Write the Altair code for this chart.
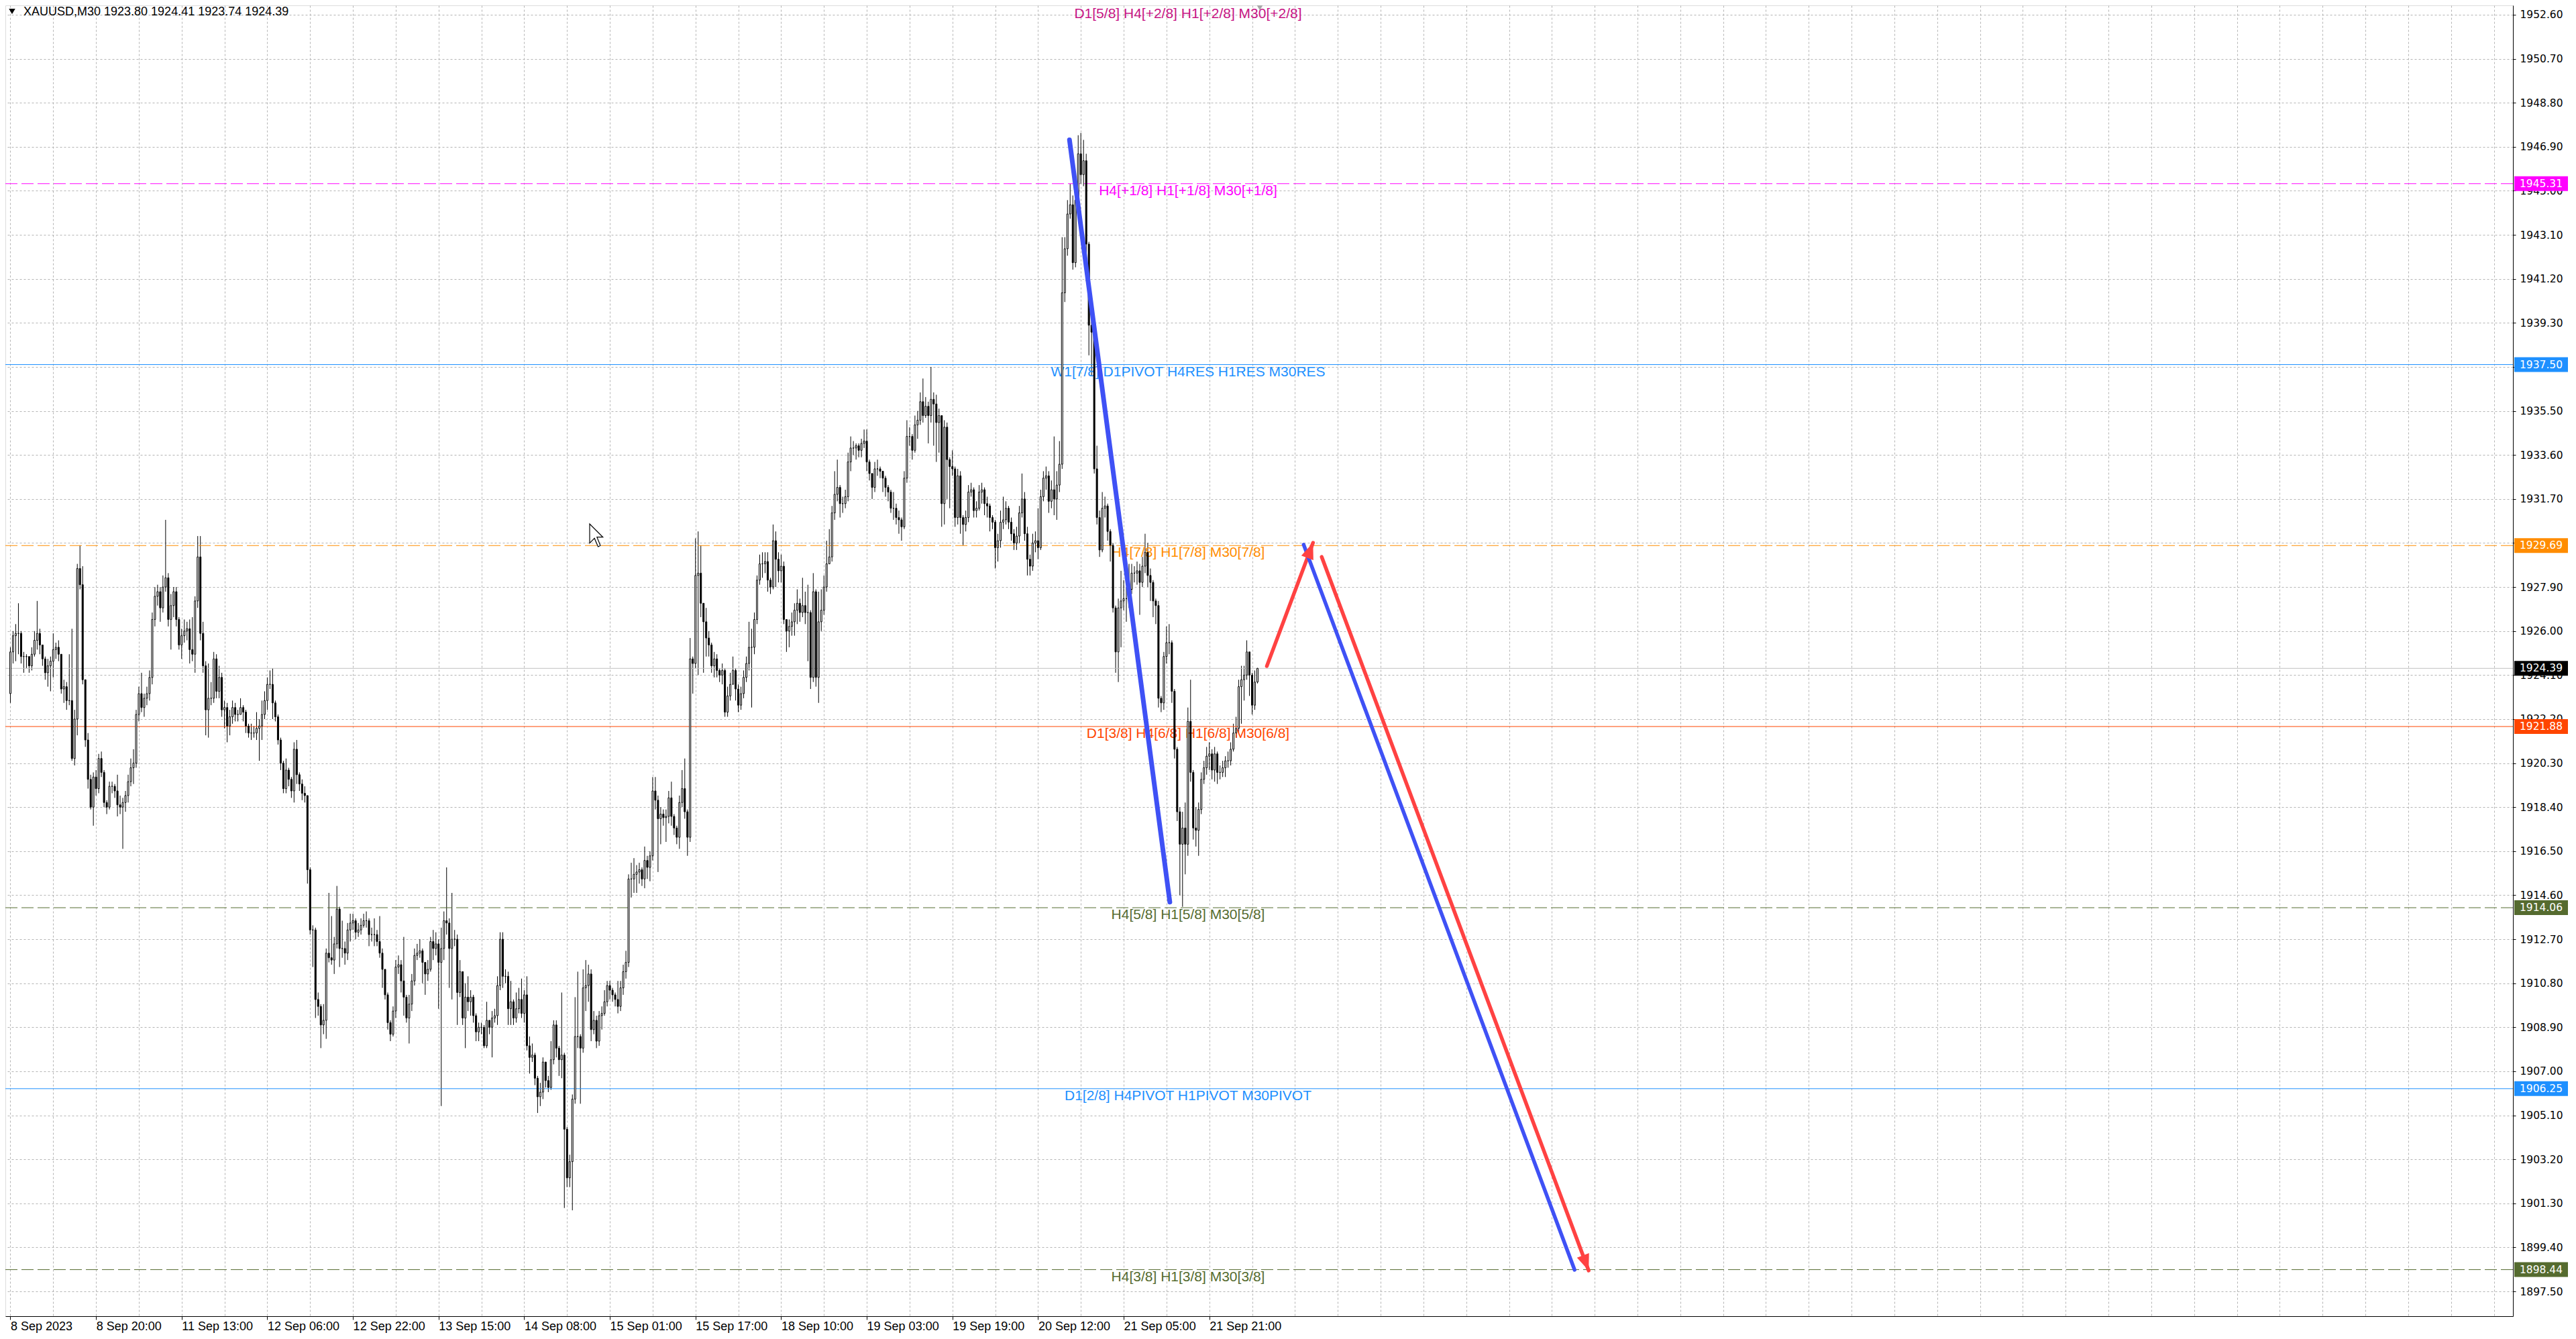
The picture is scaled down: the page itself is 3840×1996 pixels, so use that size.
import math
import altair as alt
import pandas as pd

# ---------------- data ----------------
symbol = "XAUUSD,M30"
last_ohlc = [1923.80, 1924.41, 1923.74, 1924.39]
first_open = 1923.30

close_a = [1925.1,1925.8,1925.9,1925.9,1924.9,1924.9,1924.9,1924.5,1925.0,1925.6,
           1925.9,1925.4,1924.8,1924.2,1924.5,1924.7,1925.2,1925.3,1925.0,1923.5,
           1923.6,1923.0,1923.0,1920.5,1922.2,1928.7,1928.0,1923.9,1921.3,1919.6,
           1918.4,1919.7,1919.2,1920.5,1919.9,1918.6,1918.4,1919.3,1919.3,1919.1,
           1918.5,1918.4,1918.6,1918.9,1919.5,1920.1,1920.3,1922.4,1923.3,1922.7,
           1923.1,1923.3,1924.0,1926.5,1927.5,1927.7,1927.0,1927.9,1928.3,1926.5,
           1927.1,1927.7,1926.5,1925.4,1925.8,1926.0,1926.1,1925.2,1925.0,1927.3,
           1929.2,1925.9,1924.5,1922.6,1923.1,1923.1,1924.8,1923.4,1924.0,1922.6,
           1922.7,1921.9,1922.3,1922.7,1922.4,1922.4,1922.7,1922.5,1921.9,1921.6,
           1921.6,1921.6,1921.8,1921.9,1922.4,1923.0,1923.7,1923.7,1922.9,1922.3,
           1921.3,1920.3,1919.2,1920.0,1919.6,1919.1,1920.9,1919.8,1919.4,1919.0,
           1918.9,1915.7,1913.1,1913.1,1910.1,1909.8,1909.0]
high_a = [1925.3,1926.0,1926.3,1927.2,1926.0,1925.1,1925.0,1924.9,1925.3,1926.0,
          1927.3,1926.1,1925.4,1924.9,1924.8,1924.9,1925.9,1925.5,1925.6,1925.0,
          1923.9,1923.8,1925.0,1926.1,1922.6,1928.9,1929.7,1928.8,1923.9,1921.6,
          1919.8,1919.9,1920.0,1920.7,1920.8,1920.0,1918.7,1919.5,1919.5,1919.4,
          1919.8,1918.9,1918.8,1919.1,1919.8,1920.5,1920.9,1922.6,1923.6,1924.2,
          1923.3,1923.6,1924.3,1926.8,1927.9,1928.0,1927.9,1928.4,1930.8,1928.5,
          1927.6,1927.9,1927.9,1926.6,1926.1,1926.5,1926.4,1926.5,1926.6,1927.5,
          1930.1,1930.1,1926.4,1924.7,1924.6,1923.8,1925.1,1925.0,1924.5,1924.2,
          1923.0,1922.9,1922.6,1923.0,1922.9,1922.6,1923.1,1922.8,1922.6,1922.0,
          1922.0,1921.9,1922.5,1922.2,1923.0,1923.4,1924.0,1924.3,1924.4,1923.0,
          1922.4,1921.4,1920.4,1920.5,1920.1,1919.7,1921.2,1921.3,1919.9,1919.6,
          1919.3,1918.9,1915.8,1913.3,1913.2,1910.4,1909.9]
low_a = [1922.9,1924.6,1924.7,1925.0,1924.6,1924.2,1924.4,1924.2,1924.3,1924.9,
         1925.2,1925.0,1924.5,1923.9,1923.6,1923.4,1924.0,1924.8,1924.7,1923.3,
         1922.9,1922.6,1922.8,1920.4,1920.2,1921.5,1927.8,1923.7,1921.0,1919.2,
         1918.3,1917.6,1918.9,1919.0,1919.7,1918.4,1918.1,1918.3,1919.0,1918.8,
         1918.0,1918.1,1916.6,1918.2,1918.6,1919.3,1919.4,1920.1,1922.1,1922.5,
         1922.3,1922.8,1923.0,1923.7,1926.2,1927.1,1926.4,1926.8,1927.7,1926.2,
         1925.2,1926.6,1926.2,1925.2,1924.8,1925.5,1925.6,1924.6,1924.7,1924.2,
         1927.0,1925.6,1924.2,1921.5,1921.4,1922.8,1922.9,1923.1,1923.1,1922.3,
         1921.8,1921.2,1921.5,1922.0,1922.1,1922.1,1922.4,1922.1,1921.6,1921.4,
         1921.3,1921.4,1921.3,1920.4,1921.3,1922.2,1922.6,1923.5,1922.2,1922.1,
         1921.1,1920.0,1919.0,1919.0,1919.3,1918.8,1918.6,1919.4,1919.1,1918.7,
         1918.6,1915.1,1912.9,1911.5,1909.3,1909.4,1908.0]

close_b = [1909.2,1912.1,1911.9,1911.8,1912.5,1914.0,1912.3,1912.3,1912.1,1913.1,
           1913.4,1913.5,1913.0,1913.1,1913.3,1913.5,1913.5,1912.9,1912.9,1912.9,
           1912.6,1912.1,1911.4,1910.3,1909.1,1908.6,1909.6,1911.5,1911.6,1910.9,
           1910.2,1909.3,1909.9,1910.9,1912.0,1912.1,1912.2,1911.7,1911.2,1911.4,
           1912.6,1912.3,1912.5,1911.7,1912.3,1913.5,1913.4,1912.3,1912.7,1912.7,
           1910.4,1911.3,1909.3,1910.2,1910.0,1910.2,1909.4,1908.7,1908.9,1908.9,
           1908.1,1909.2,1908.9,1909.3,1909.4,1910.7,1912.7,1911.1,1911.1,1909.7,
           1910.0,1909.3,1909.7,1910.1,1909.5,1910.3,1908.1,1907.6,1907.7,1906.7,
           1905.9,1906.1,1907.4,1906.6,1906.3,1907.5,1909.0,1908.0,1907.5,1907.7,
           1904.5,1902.4,1903.1,1905.8,1908.5,1908.5,1908.0,1910.6,1910.7,1911.2,
           1908.8,1909.2,1908.3,1909.4,1909.5,1910.0,1910.7,1910.5,1910.3,1910.1,
           1909.8,1910.6,1911.3,1911.7,1915.3,1915.3,1915.5]
high_b = [1909.9,1912.3,1914.7,1913.7,1912.8,1915.0,1914.1,1913.5,1912.6,1913.4,
          1913.8,1913.8,1913.6,1913.4,1913.6,1913.8,1913.9,1913.6,1913.2,1913.6,
          1913.1,1913.7,1912.3,1911.4,1910.4,1909.2,1909.8,1911.8,1912.0,1911.8,
          1912.8,1910.3,1910.3,1911.2,1912.3,1912.5,1912.7,1912.3,1911.7,1911.8,
          1912.8,1913.1,1913.0,1912.7,1913.2,1913.9,1915.8,1913.6,1914.7,1913.1,
          1912.9,1911.8,1911.3,1910.8,1911.1,1910.5,1910.3,1909.5,1909.1,1909.1,
          1909.0,1910.0,1909.2,1909.6,1909.7,1911.1,1913.0,1913.0,1911.4,1911.3,
          1910.9,1910.1,1910.4,1910.6,1911.0,1910.5,1911.1,1908.5,1908.2,1907.8,
          1906.8,1906.5,1907.6,1907.4,1906.8,1908.3,1909.2,1909.2,1908.1,1910.4,
          1907.8,1904.6,1903.4,1906.0,1910.2,1911.3,1908.6,1911.4,1911.8,1911.6,
          1911.4,1909.6,1909.4,1909.6,1909.8,1910.5,1910.9,1910.9,1910.6,1910.4,
          1910.9,1910.9,1911.6,1912.2,1915.5,1916.0,1916.2]
low_b = [1908.6,1908.4,1911.7,1911.6,1911.2,1912.3,1911.5,1911.9,1911.6,1911.8,
         1912.6,1913.1,1912.7,1912.8,1912.9,1913.2,1913.2,1912.4,1912.6,1912.4,
         1912.4,1911.9,1910.6,1910.1,1908.8,1908.3,1908.5,1909.3,1911.2,1910.4,
         1909.4,1909.1,1908.2,1909.6,1910.7,1911.8,1911.9,1910.8,1910.3,1910.9,
         1911.3,1911.8,1912.0,1909.7,1905.5,1911.8,1912.9,1910.6,1910.1,1912.4,
         1909.0,1910.2,1909.0,1908.0,1909.6,1909.4,1909.1,1908.3,1908.3,1908.6,
         1908.0,1908.0,1908.6,1907.6,1909.1,1909.0,1910.5,1910.6,1910.8,1909.0,
         1909.0,1909.0,1909.1,1909.5,1909.3,1909.1,1907.9,1906.9,1907.4,1906.4,
         1905.2,1905.5,1905.8,1906.3,1906.1,1906.2,1907.3,1907.6,1906.8,1906.7,
         1901.1,1902.0,1902.0,1901.0,1905.6,1908.0,1905.6,1907.8,1909.6,1910.0,
         1908.3,1908.6,1908.0,1908.1,1908.8,1909.4,1909.8,1910.1,1910.0,1909.8,
         1909.5,1909.6,1910.3,1911.0,1911.5,1914.5,1914.7]

close_c = [1915.6,1915.7,1915.3,1916.1,1915.8,1916.3,1919.1,1918.7,1917.9,1918.1,
           1917.95,1918.0,1918.8,1918.0,1917.5,1917.1,1918.6,1919.2,1918.2,1917.1,
           1924.8,1924.6,1928.4,1928.5,1927.2,1926.4,1925.7,1925.4,1924.5,1924.8,
           1924.3,1924.1,1924.3,1922.5,1923.2,1923.7,1924.3,1923.5,1922.8,1923.3,
           1924.0,1924.6,1925.3,1925.3,1926.5,1928.2,1928.9,1928.9,1929.0,1928.2,
           1927.9,1929.9,1929.1,1928.6,1928.8,1926.5,1926.0,1926.2,1926.4,1926.9,
           1927.2,1926.8,1927.1,1926.8,1926.8,1924.0,1927.7,1924.0,1926.4,1926.9,
           1927.9,1928.9,1929.2,1931.1,1931.9,1932.2,1931.5,1931.5,1931.8,1933.3,
           1933.9,1933.9,1934.0,1933.8,1934.1,1934.2,1933.3,1932.8,1932.2,1933.0,
           1933.0,1932.9,1932.6,1932.2,1932.0,1931.3,1931.3,1930.9,1930.8,1930.5,
           1932.6,1934.4,1934.4,1933.8,1934.9,1935.1,1935.9,1935.3,1935.7,1935.3,
           1936.0,1935.8,1935.0,1935.3,1931.5,1934.8,1933.4,1933.1]
high_c = [1915.9,1916.0,1915.8,1916.7,1916.3,1916.5,1919.7,1919.7,1918.9,1918.4,
          1918.3,1918.3,1919.1,1919.5,1918.1,1917.6,1918.9,1920.0,1920.5,1918.3,
          1925.7,1924.9,1930.0,1930.3,1929.7,1927.2,1927.0,1926.0,1925.5,1925.1,
          1925.0,1924.4,1924.6,1924.4,1923.6,1924.2,1924.9,1924.4,1923.7,1923.6,
          1924.3,1924.9,1926.4,1926.1,1926.8,1928.4,1929.3,1929.4,1929.4,1929.4,
          1928.3,1930.6,1930.3,1929.4,1929.3,1929.0,1926.5,1926.5,1926.8,1927.2,
          1927.8,1927.4,1928.3,1927.7,1928.0,1926.9,1928.5,1927.8,1927.7,1927.8,
          1928.4,1929.9,1930.4,1931.4,1932.9,1933.4,1932.3,1931.8,1932.1,1933.7,
          1934.4,1934.2,1934.1,1934.1,1934.3,1934.7,1934.7,1933.4,1932.8,1933.3,
          1933.4,1933.1,1932.9,1932.7,1932.3,1932.1,1932.0,1931.5,1931.2,1930.9,
          1932.9,1935.1,1934.8,1934.5,1935.3,1935.5,1936.3,1936.9,1936.1,1935.9,
          1937.4,1936.3,1936.2,1935.6,1935.3,1935.1,1935.0,1933.5]
low_c = [1914.7,1915.1,1915.0,1914.9,1915.3,1915.2,1916.1,1918.3,1915.6,1916.8,
         1917.6,1916.9,1917.7,1917.6,1917.2,1916.8,1916.6,1918.4,1917.9,1916.3,
         1916.9,1923.3,1924.4,1924.1,1926.6,1924.2,1924.9,1924.9,1924.2,1924.0,
         1924.0,1923.8,1923.7,1922.3,1922.3,1923.0,1924.0,1923.0,1922.5,1922.6,
         1923.1,1923.8,1924.3,1922.7,1925.0,1926.3,1928.0,1928.3,1928.5,1927.7,
         1927.6,1927.8,1927.9,1928.1,1928.1,1926.3,1925.1,1925.3,1925.8,1925.8,
         1926.3,1926.4,1926.6,1926.3,1924.7,1923.5,1923.8,1923.6,1922.9,1926.0,
         1926.7,1927.7,1928.9,1929.0,1930.8,1931.6,1930.9,1931.1,1931.3,1931.6,
         1932.9,1933.6,1933.4,1933.5,1933.5,1933.9,1932.9,1932.5,1931.7,1932.0,
         1932.7,1932.6,1932.0,1931.8,1931.6,1931.1,1930.8,1930.6,1930.2,1929.9,
         1930.4,1932.4,1934.0,1933.4,1933.7,1934.3,1934.9,1935.0,1935.2,1934.1,
         1935.0,1934.0,1933.3,1933.7,1930.5,1930.6,1931.7,1931.3]

close_d = [1933.0,1930.9,1932.7,1930.9,1930.6,1930.9,1932.0,1932.1,1931.2,1931.3,
           1932.0,1932.1,1931.5,1931.4,1930.9,1930.7,1929.6,1929.9,1930.7,1930.8,
           1931.3,1930.7,1930.2,1929.8,1930.1,1931.1,1931.7,1930.2,1929.1,1928.8,
           1929.8,1929.9,1929.6,1931.8,1932.6,1932.7,1931.6,1932.1,1931.7,1932.3,
           1933.2,1940.6,1942.5,1944.0,1944.4,1941.9,1944.6,1946.6,1945.7,1946.3,
           1942.7,1939.2,1938.9,1933.0,1930.9,1929.5,1931.3,1931.4,1930.3,1929.7,
           1927.0,1925.1,1927.0,1927.3,1927.4,1927.4,1927.8,1928.5,1928.5,1928.6,
           1928.1,1928.8,1929.4,1928.4,1928.1,1927.3,1927.1,1923.1,1922.9,1924.9,
           1925.5,1925.5,1923.4,1920.9,1918.2,1916.8,1917.5,1916.8,1922.1,1919.9,
           1917.5,1917.4,1918.3,1919.6,1920.1,1920.6,1920.7,1920.0,1920.7,1919.9,
           1919.9,1920.1,1920.4,1920.4,1920.9,1921.6,1921.8,1923.6,1923.9,1924.1,
           1925.1,1924.1,1922.8,1923.8,1924.39]
high_d = [1933.8,1933.1,1933.0,1932.9,1931.0,1931.2,1932.3,1932.4,1932.2,1931.6,
          1932.3,1932.4,1932.2,1931.8,1931.5,1931.0,1930.8,1930.2,1931.2,1931.8,
          1931.6,1931.4,1930.9,1930.4,1930.5,1931.4,1932.8,1932.0,1930.5,1929.3,
          1930.2,1930.3,1931.3,1932.1,1932.9,1933.1,1932.9,1932.5,1934.4,1932.9,
          1934.2,1943.0,1943.0,1944.6,1945.3,1944.8,1944.9,1947.4,1947.5,1947.2,
          1946.6,1942.8,1940.4,1939.1,1934.0,1931.2,1932.0,1931.8,1931.5,1930.4,
          1929.8,1927.1,1927.4,1928.6,1928.2,1927.9,1928.9,1928.9,1928.8,1929.0,
          1928.9,1929.2,1930.2,1929.8,1928.7,1928.2,1927.4,1927.3,1923.2,1925.1,
          1926.2,1926.3,1925.6,1923.5,1921.0,1918.4,1918.2,1918.6,1922.7,1923.9,
          1920.0,1918.4,1918.6,1919.9,1920.4,1921.0,1921.2,1920.9,1921.0,1920.8,
          1920.2,1920.4,1920.6,1920.8,1921.2,1922.0,1922.3,1923.9,1924.5,1924.5,
          1925.6,1925.1,1924.2,1924.3,1924.41]
low_d = [1932.7,1930.5,1930.6,1930.2,1929.7,1930.3,1930.7,1931.8,1930.9,1930.9,
         1931.2,1931.5,1931.0,1930.9,1930.3,1930.4,1928.7,1929.0,1929.6,1930.4,
         1930.6,1930.4,1929.9,1929.5,1929.5,1929.8,1930.9,1929.9,1928.4,1928.4,
         1928.6,1929.4,1929.1,1929.5,1931.6,1932.1,1931.1,1931.3,1931.0,1930.8,
         1932.0,1933.0,1940.2,1942.2,1943.8,1941.6,1941.7,1944.0,1945.3,1945.2,
         1941.1,1937.9,1937.0,1932.8,1930.6,1929.2,1929.4,1930.9,1929.9,1929.0,
         1926.8,1924.2,1923.8,1925.3,1926.9,1926.4,1927.0,1927.6,1928.1,1928.0,
         1926.7,1927.9,1928.5,1927.9,1927.3,1926.6,1926.3,1922.7,1922.5,1922.6,
         1924.6,1925.0,1922.9,1920.5,1917.8,1914.6,1914.1,1915.5,1916.3,1919.5,
         1917.0,1916.7,1916.3,1918.1,1919.4,1919.8,1920.0,1919.6,1919.5,1919.4,
         1919.6,1919.7,1919.7,1920.1,1920.2,1920.8,1921.4,1921.6,1922.0,1923.0,
         1923.9,1923.2,1922.4,1922.6,1923.74]

time_labels = ["8 Sep 2023", "8 Sep 20:00", "11 Sep 13:00", "12 Sep 06:00", "12 Sep 22:00",
               "13 Sep 15:00", "14 Sep 08:00", "15 Sep 01:00", "15 Sep 17:00", "18 Sep 10:00",
               "19 Sep 03:00", "19 Sep 19:00", "20 Sep 12:00", "21 Sep 05:00", "21 Sep 21:00"]
price_ticks = [1897.50, 1899.40, 1901.30, 1903.20, 1905.10, 1907.00, 1908.90, 1910.80, 1912.70,
               1914.60, 1916.50, 1918.40, 1920.30, 1922.20, 1924.10, 1926.00, 1927.90, 1929.80,
               1931.70, 1933.60, 1935.50, 1937.40, 1939.30, 1941.20, 1943.10, 1945.00, 1946.90,
               1948.80, 1950.70, 1952.60]

level_prices = [1953.12, 1945.31, 1937.50, 1929.69, 1921.88, 1914.06, 1906.25, 1898.44]
level_texts = ["D1[5/8] H4[+2/8] H1[+2/8] M30[+2/8]", "H4[+1/8] H1[+1/8] M30[+1/8]",
               "W1[7/8] D1PIVOT H4RES H1RES M30RES", "H4[7/8] H1[7/8] M30[7/8]",
               "D1[3/8] H4[6/8] H1[6/8] M30[6/8]", "H4[5/8] H1[5/8] M30[5/8]",
               "D1[2/8] H4PIVOT H1PIVOT M30PIVOT", "H4[3/8] H1[3/8] M30[3/8]"]
level_colors = ["#C71585", "#FF00FF", "#1E90FF", "#FF8C00", "#FF4500", "#556B2F", "#1E90FF", "#556B2F"]
level_dashed = [True, True, False, True, False, True, False, True]

# drawn lines: (id, start bar, start price, end bar, end price, colour, width)
draw_ids = ["trend", "up_red", "down_blue", "down_red"]
draw_x0 = [395.75, 469.5, 483.25, 490.0]
draw_y0 = [1947.2, 1924.49, 1929.73, 1929.2]
draw_x1 = [433.25, 486.75, 584.5, 589.75]
draw_y1 = [1914.3, 1929.81, 1898.43, 1898.4]
draw_col = ["#3F51F5", "#FF4242", "#3F51F5", "#FF4242"]
draw_w = [7, 5.5, 5.5, 5.5]
arrow_on = ["up_red", "down_red"]

# ---------------- build tables ----------------
closes = close_a + close_b + close_c + close_d
highs = high_a + high_b + high_c + high_d
lows = low_a + low_b + low_c + low_d
opens = [first_open] + closes[:-1]
opens[-1] = last_ohlc[0]
candles = pd.DataFrame({
    "bar": list(range(len(closes))),
    "o": opens, "c": closes,
    "h": [max(h, o, c) for h, o, c in zip(highs, opens, closes)],
    "l": [min(l, o, c) for l, o, c in zip(lows, opens, closes)],
})

W, H = 3738, 1954
X_DOM = [-0.625, 933.875]
Y_DOM = [1896.43, 1953.005]
PX_X = W / (X_DOM[1] - X_DOM[0])
PX_Y = H / (Y_DOM[1] - Y_DOM[0])
xs = alt.Scale(domain=X_DOM, nice=False, zero=False)
ys = alt.Scale(domain=Y_DOM, nice=False, zero=False)
GRID = "#b4b4b4"

levels = pd.DataFrame({"p": level_prices, "t": level_texts, "col": level_colors, "dash": level_dashed})
lines_rows = []
for i, k in enumerate(draw_ids):
    lines_rows.append({"id": k, "s": 0, "bar": draw_x0[i], "p": draw_y0[i], "col": draw_col[i], "w": draw_w[i]})
    lines_rows.append({"id": k, "s": 1, "bar": draw_x1[i], "p": draw_y1[i], "col": draw_col[i], "w": draw_w[i]})
lines_df = pd.DataFrame(lines_rows)
heads = []
for i, k in enumerate(draw_ids):
    if k in arrow_on:
        dx = (draw_x1[i] - draw_x0[i]) * PX_X
        dy = -(draw_y1[i] - draw_y0[i]) * PX_Y
        ang = math.degrees(math.atan2(dx, -dy)) % 360
        heads.append({"bar": draw_x1[i], "p": draw_y1[i], "col": draw_col[i], "ang": ang})
heads_df = pd.DataFrame(heads)

box_df = pd.DataFrame({
    "p": level_prices[1:] + [last_ohlc[3]],
    "col": level_colors[1:] + ["#000000"],
})
box_df["lab"] = [f"{v:.2f}" for v in box_df["p"]]
cur_df = pd.DataFrame({"p": [last_ohlc[3]]})
header_df = pd.DataFrame({"t": [symbol + "  " + " ".join(f"{v:.2f}" for v in last_ohlc)]})

# ---------------- axes ----------------
label_js = "[" + ",".join(f"'{t}'" for t in time_labels) + "]"
last_lab = 32 * (len(time_labels) - 1)
x_axis = alt.Axis(
    values=list(range(0, 929, 16)), title=None,
    grid=True, gridColor=GRID, gridDash=[3, 3], gridWidth=1,
    domain=True, domainColor="black", domainWidth=1,
    ticks=True, tickColor="black", tickSize=5, tickWidth=1,
    tickOpacity={"condition": {"test": f"datum.value % 32 != 0 || datum.value > {last_lab}", "value": 0}, "value": 1},
    labelExpr=f"(datum.value % 32 == 0 && datum.value <= {last_lab}) ? {label_js}[datum.value / 32] : ''",
    labelAlign="left", labelBaseline="top", labelPadding=1, labelFlush=False, labelOverlap=False,
    labelFont="Liberation Sans", labelFontSize=18, labelColor="black",
)
y_axis = alt.Axis(
    values=price_ticks, orient="right", title=None, format=".2f",
    grid=True, gridColor=GRID, gridDash=[3, 3], gridWidth=1,
    domain=True, domainColor="black", domainWidth=1,
    ticks=True, tickColor="black", tickSize=4,
    labelAlign="left", labelBaseline="middle", labelPadding=6, labelFlush=False, labelOverlap=False,
    labelFont="DejaVu Sans", labelFontSize=15.5, labelColor="black",
)

# ---------------- layers ----------------
wicks = alt.Chart(candles).mark_rule(color="black", strokeWidth=1).encode(
    x=alt.X("bar:Q", scale=xs, axis=x_axis),
    y=alt.Y("l:Q", scale=ys, axis=y_axis),
    y2="h:Q",
)
dash_lines = alt.Chart(levels.iloc[1:]).transform_filter("datum.dash").mark_rule(
    strokeWidth=1, strokeDash=[18, 6]).encode(
    y=alt.Y("p:Q", scale=ys), color=alt.Color("col:N", scale=None))
solid_lines = alt.Chart(levels.iloc[1:]).transform_filter("!datum.dash").mark_rule(
    strokeWidth=1).encode(
    y=alt.Y("p:Q", scale=ys), color=alt.Color("col:N", scale=None))
cur_line = alt.Chart(cur_df).mark_rule(color="#c0c0c0", strokeWidth=1).encode(
    y=alt.Y("p:Q", scale=ys))
level_text = alt.Chart(levels.iloc[1:]).mark_text(
    font="Liberation Sans", fontSize=21, align="center", baseline="top", dy=0).encode(
    x=alt.value(1763), y=alt.Y("p:Q", scale=ys),
    text="t:N", color=alt.Color("col:N", scale=None))
top_text = alt.Chart(levels.iloc[:1]).mark_text(
    font="Liberation Sans", fontSize=21, align="center", baseline="top", dy=6).encode(
    x=alt.value(1763), y=alt.Y("p:Q", scale=ys),
    text="t:N", color=alt.Color("col:N", scale=None))
bodies = alt.Chart(candles).mark_bar(size=2, stroke="black", strokeWidth=1).encode(
    x=alt.X("bar:Q", scale=xs),
    y=alt.Y("o:Q", scale=ys), y2="c:Q",
    fill=alt.condition("datum.c >= datum.o", alt.value("white"), alt.value("black")),
)
drawn = alt.Chart(lines_df).mark_line(strokeCap="round").encode(
    x=alt.X("bar:Q", scale=xs), y=alt.Y("p:Q", scale=ys),
    detail="id:N", order="s:Q",
    color=alt.Color("col:N", scale=None), strokeWidth=alt.StrokeWidth("w:Q", scale=None))
arrow_heads = alt.Chart(heads_df).mark_point(
    shape="M0,0L-0.4,1L0.4,1Z", filled=True, size=2304, opacity=1, strokeWidth=0).encode(
    x=alt.X("bar:Q", scale=xs), y=alt.Y("p:Q", scale=ys),
    color=alt.Color("col:N", scale=None), angle=alt.Angle("ang:Q", scale=None))
boxes = alt.Chart(box_df).mark_tick(orient="horizontal", size=80, thickness=22, opacity=1).encode(
    x=alt.value(3780), y=alt.Y("p:Q", scale=ys), color=alt.Color("col:N", scale=None))
box_text = alt.Chart(box_df).mark_text(
    font="DejaVu Sans", fontSize=15.5, align="left", baseline="middle", color="white").encode(
    x=alt.value(3748), y=alt.Y("p:Q", scale=ys), text="lab:N")
header = alt.Chart(header_df).mark_text(
    font="Liberation Sans", fontSize=18, align="left", baseline="middle", color="black").encode(
    x=alt.value(27), y=alt.value(10), text="t:N")
header_tri = alt.Chart(header_df).mark_point(
    shape="triangle-down", filled=True, size=90, color="black", opacity=1).encode(
    x=alt.value(10), y=alt.value(9))
shift_mark = alt.Chart(header_df).mark_point(
    shape="triangle-down", filled=True, size=160, color="#a8a8a8", opacity=1).encode(
    x=alt.value(1870), y=alt.value(2))
cursor = alt.Chart(header_df).mark_point(
    shape="M0,0L0,0.84L0.21,0.63L0.37,1L0.47,0.95L0.32,0.58L0.58,0.58Z",
    filled=True, size=4624, fill="white", stroke="black", strokeWidth=1.2, opacity=1).encode(
    x=alt.value(871), y=alt.value(773))

chart = alt.layer(
    wicks, dash_lines, solid_lines, cur_line, level_text, top_text, bodies, drawn, arrow_heads,
    boxes, box_text, header_tri, header, shift_mark, cursor,
).properties(
    width=W, height=H,
    autosize=alt.AutoSizeParams(type="none"),
    padding={"left": 0, "top": 0, "right": 86, "bottom": 26},
).configure_view(stroke="black", strokeWidth=1).configure(background="white")

chart.save("out.html", embed_options={"renderer": "svg", "actions": False})
